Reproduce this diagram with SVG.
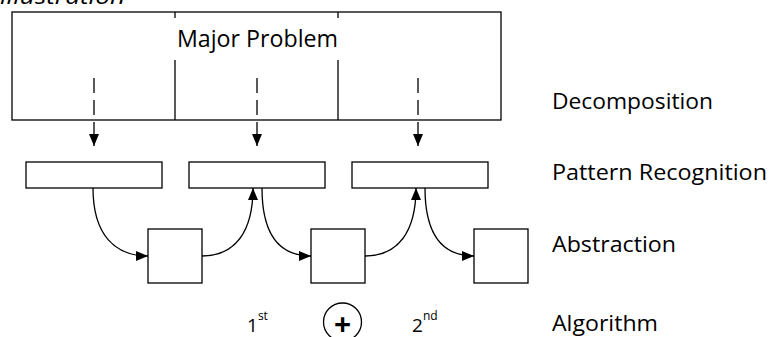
<svg xmlns="http://www.w3.org/2000/svg" width="770" height="337" viewBox="0 0 770 337">
<defs>
<marker id="ah" markerUnits="userSpaceOnUse" markerWidth="12" markerHeight="10" viewBox="0 0 12 10" refX="12" refY="5" orient="auto">
<path d="M0,0 L12,5 L0,10 z" fill="#000"/>
</marker>
<style>
.box{fill:#fff;stroke:#000;stroke-width:1.3}
.ln{fill:none;stroke:#000;stroke-width:1.3}
.dash{fill:none;stroke:#000;stroke-width:1.3;stroke-dasharray:15 7}
.t{font-family:"Open Sans","Liberation Sans",sans-serif;fill:#000}
</style>
</defs>
<rect width="770" height="337" fill="#fff"/>
<text class="t" x="0" y="4" font-size="22" font-style="italic" textLength="125" lengthAdjust="spacingAndGlyphs">illustration</text>
<g id="major-problem">
<rect class="box" x="12" y="12" width="489" height="108"/>
<line class="ln" x1="175" y1="12" x2="175" y2="18"/>
<line class="ln" x1="175" y1="60" x2="175" y2="120"/>
<line class="ln" x1="338" y1="12" x2="338" y2="18"/>
<line class="ln" x1="338" y1="60" x2="338" y2="120"/>
<text class="t" x="177" y="47" font-size="23" textLength="161" lengthAdjust="spacingAndGlyphs">Major Problem</text>
</g>
<g id="pattern-1"><rect class="box" x="26" y="162" width="136" height="26"/></g>
<g id="pattern-2"><rect class="box" x="189" y="162" width="136" height="26"/></g>
<g id="pattern-3"><rect class="box" x="352" y="162" width="136" height="26"/></g>
<g id="abstraction-1"><rect class="box" x="148" y="229" width="54" height="54"/></g>
<g id="abstraction-2"><rect class="box" x="311" y="229" width="54" height="54"/></g>
<g id="abstraction-3"><rect class="box" x="474" y="229" width="54" height="54"/></g>
<g id="connectors">
<path class="dash" d="M94,78 V146" marker-end="url(#ah)"/>
<path class="dash" d="M257,78 V146" marker-end="url(#ah)"/>
<path class="dash" d="M418,78 V146" marker-end="url(#ah)"/>
<path class="ln" d="M93,188 C93,235 115,256 148,256" marker-end="url(#ah)"/>
<path class="ln" d="M202,256 C235,256 253,232 253,188" marker-end="url(#ah)"/>
<path class="ln" d="M262,188 C262,235 280,256 311,256" marker-end="url(#ah)"/>
<path class="ln" d="M365,256 C398,256 416,232 416,188" marker-end="url(#ah)"/>
<path class="ln" d="M425,188 C425,235 443,256 474,256" marker-end="url(#ah)"/>
</g>
<g id="labels">
<text class="t" x="552" y="109" font-size="21" textLength="161" lengthAdjust="spacingAndGlyphs">Decomposition</text>
<text class="t" x="552" y="180" font-size="21" textLength="215" lengthAdjust="spacingAndGlyphs">Pattern Recognition</text>
<text class="t" x="552" y="252" font-size="21" textLength="124" lengthAdjust="spacingAndGlyphs">Abstraction</text>
<text class="t" x="552" y="331" font-size="21" textLength="106" lengthAdjust="spacingAndGlyphs">Algorithm</text>
</g>
<g id="algorithm">
<text class="t" x="247" y="332" font-size="19">1<tspan font-size="12" dy="-12">st</tspan></text>
<circle class="ln" cx="342.5" cy="322" r="19"/>
<text class="t" x="342.5" y="335" font-size="30" font-weight="bold" text-anchor="middle">+</text>
<text class="t" x="412" y="332" font-size="19">2<tspan font-size="12" dy="-12">nd</tspan></text>
</g>
</svg>
